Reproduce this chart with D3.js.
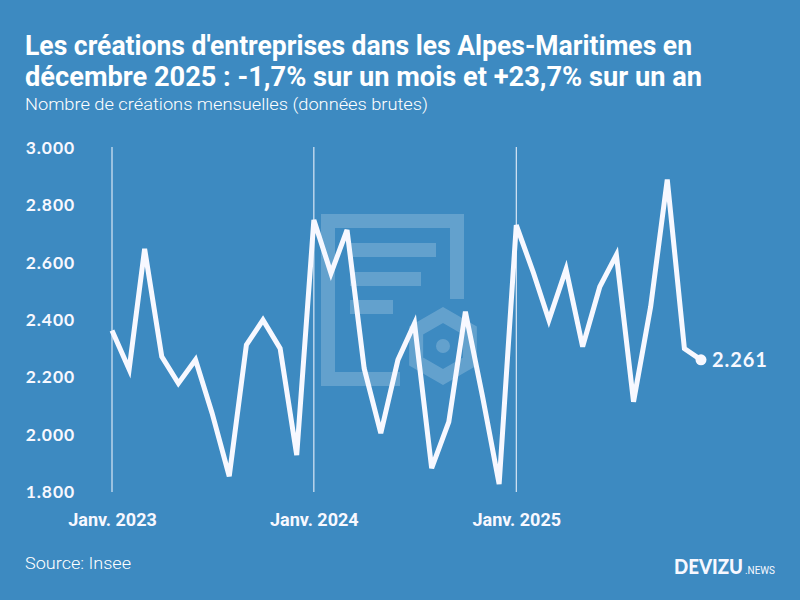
<!DOCTYPE html>
<html><head><meta charset="utf-8">
<script src="https://cdn.jsdelivr.net/npm/d3@7"></script>
<style>
html,body{margin:0;padding:0;background:#3d8ac1;}
svg{display:block;}
</style></head>
<body>
<svg id="chart" width="800" height="600"></svg>
<script>
// ---- data ----
const months = [
 "2023-01","2023-02","2023-03","2023-04","2023-05","2023-06","2023-07","2023-08","2023-09","2023-10","2023-11","2023-12",
 "2024-01","2024-02","2024-03","2024-04","2024-05","2024-06","2024-07","2024-08","2024-09","2024-10","2024-11","2024-12",
 "2025-01","2025-02","2025-03","2025-04","2025-05","2025-06","2025-07","2025-08","2025-09","2025-10","2025-11","2025-12"
];
const creations = [
 2363, 2228, 2648, 2272, 2179, 2261, 2075, 1855, 2313, 2400, 2301, 1929,
 2749, 2563, 2714, 2231, 2005, 2261, 2388, 1883, 2045, 2429, 2133, 1828,
 2731, 2565, 2400, 2577, 2307, 2516, 2627, 2115, 2447, 2890, 2300, 2261
];
const yTicks = [1800, 2000, 2200, 2400, 2600, 2800, 3000];
const xTickMonths = ["2023-01","2024-01","2025-01"];
const xTickLabels = ["Janv. 2023","Janv. 2024","Janv. 2025"];
const titleLines = [
 "Les créations d'entreprises dans les Alpes-Maritimes en",
 "décembre 2025 : -1,7% sur un mois et +23,7% sur un an"
];
const subtitle = "Nombre de créations mensuelles (données brutes)";
const source = "Source: Insee";

// ---- setup ----
const parse = d3.timeParse("%Y-%m");
const data = months.map((m,i)=>({date:parse(m), value:creations[i]}));
const fr = d3.formatLocale({decimal:",", thousands:".", grouping:[3], currency:["","\u00a0€"]});
const fmt = fr.format(",d");

const svg = d3.select("#chart");
const W = 800, H = 600;
const bg = "#3d8ac1", ink = "#f7f8ff";
svg.append("rect").attr("width",W).attr("height",H).attr("fill",bg);

const x = d3.scaleTime().domain([parse("2023-01"), parse("2025-12")]).range([112, 701]);
const y = d3.scaleLinear().domain([1800, 3000]).range([492, 148]);

// ---- watermark ----
const wm = svg.append("g").attr("fill","none").attr("stroke","#ffffff").attr("stroke-opacity",0.2);
wm.append("path").attr("d","M400,379 L328,379 L328,221 L457,221 L457,299")
  .attr("stroke-width",14).attr("stroke-linejoin","miter");
const wmf = svg.append("g").attr("fill","#ffffff").attr("fill-opacity",0.2);
wmf.append("rect").attr("x",350).attr("y",243).attr("width",86).attr("height",14);
wmf.append("rect").attr("x",350).attr("y",272).attr("width",71).attr("height",14);
wmf.append("rect").attr("x",350).attr("y",300).attr("width",43).attr("height",14);
const hc = [443, 346], hr = 31;
const hex = d3.range(6).map(k=>{const a = -Math.PI/2 + k*Math.PI/3; return [hc[0]+hr*Math.cos(a), hc[1]+hr*Math.sin(a)];});
wm.append("path").attr("d", d3.line()(hex)+"Z").attr("stroke-width",14).attr("stroke-linejoin","miter");
wmf.append("circle").attr("cx",hc[0]).attr("cy",hc[1]).attr("r",7);

// ---- titles ----
const tx = svg.append("g").attr("fill","#ffffff");
tx.append("text").attr("x",25).attr("y",55).text(titleLines[0])
  .attr("font-family","Roboto").attr("font-weight",700).attr("font-size",27)
  .attr("textLength",667).attr("lengthAdjust","spacingAndGlyphs");
tx.append("text").attr("x",25).attr("y",86).text(titleLines[1])
  .attr("font-family","Roboto").attr("font-weight",700).attr("font-size",27)
  .attr("textLength",677).attr("lengthAdjust","spacingAndGlyphs");
tx.append("text").attr("x",25).attr("y",110).text(subtitle)
  .attr("font-family","Roboto").attr("font-weight",300).attr("font-size",17)
  .attr("textLength",403).attr("lengthAdjust","spacingAndGlyphs");
tx.append("text").attr("x",25).attr("y",569).text(source)
  .attr("font-family","Roboto").attr("font-weight",300).attr("font-size",17)
  .attr("textLength",106).attr("lengthAdjust","spacingAndGlyphs");

// logo
svg.append("text").attr("x",674).attr("y",574).attr("fill",ink).attr("font-family","Lato")
  .text("DEVIZU").attr("font-weight",900).attr("font-size",20)
  .attr("textLength",69).attr("lengthAdjust","spacingAndGlyphs");
svg.append("text").attr("x",745).attr("y",574).attr("fill",ink).attr("font-family","Roboto")
  .text(".NEWS").attr("font-weight",400).attr("font-size",10)
  .attr("textLength",30).attr("lengthAdjust","spacingAndGlyphs");

// ---- gridlines (x) ----
const xTickDates = xTickMonths.map(parse);
svg.append("g").selectAll("line").data(xTickDates).join("line")
  .attr("x1",d=>x(d)).attr("x2",d=>x(d)).attr("y1",147).attr("y2",492)
  .attr("stroke",ink).attr("stroke-width",1);

// ---- axes ----
const yAxis = svg.append("g").attr("transform","translate(75,0)")
  .call(d3.axisLeft(y).tickValues(yTicks).tickFormat(fmt).tickSize(0).tickPadding(0));
yAxis.select(".domain").remove();
yAxis.selectAll("text").attr("fill",ink).attr("font-family","Lato").attr("font-weight",700)
  .attr("font-size",17.5).attr("letter-spacing",0.9);

const xAxis = svg.append("g").attr("transform","translate(0,492)")
  .call(d3.axisBottom(x).tickValues(xTickDates).tickFormat((d,i)=>xTickLabels[i]).tickSize(0).tickPadding(21));
xAxis.select(".domain").remove();
xAxis.selectAll("text").attr("fill",ink).attr("font-family","Roboto").attr("font-weight",700)
  .attr("font-size",18);

// ---- line ----
const line = d3.line().x(d=>x(d.date)).y(d=>y(d.value));
svg.append("path").datum(data).attr("d",line).attr("fill","none").attr("stroke",ink)
  .attr("stroke-width",5).attr("stroke-linejoin","miter").attr("stroke-miterlimit",4);

const last = data[data.length-1];
svg.append("circle").attr("cx",x(last.date)).attr("cy",y(last.value)).attr("r",5.5).attr("fill",ink);
svg.append("text").attr("x",x(last.date)+11).attr("y",y(last.value)+7).text(fmt(last.value))
  .attr("fill",ink).attr("font-family","Lato").attr("font-weight",700).attr("font-size",20)
  .attr("letter-spacing",0.9);
</script>
</body></html>
